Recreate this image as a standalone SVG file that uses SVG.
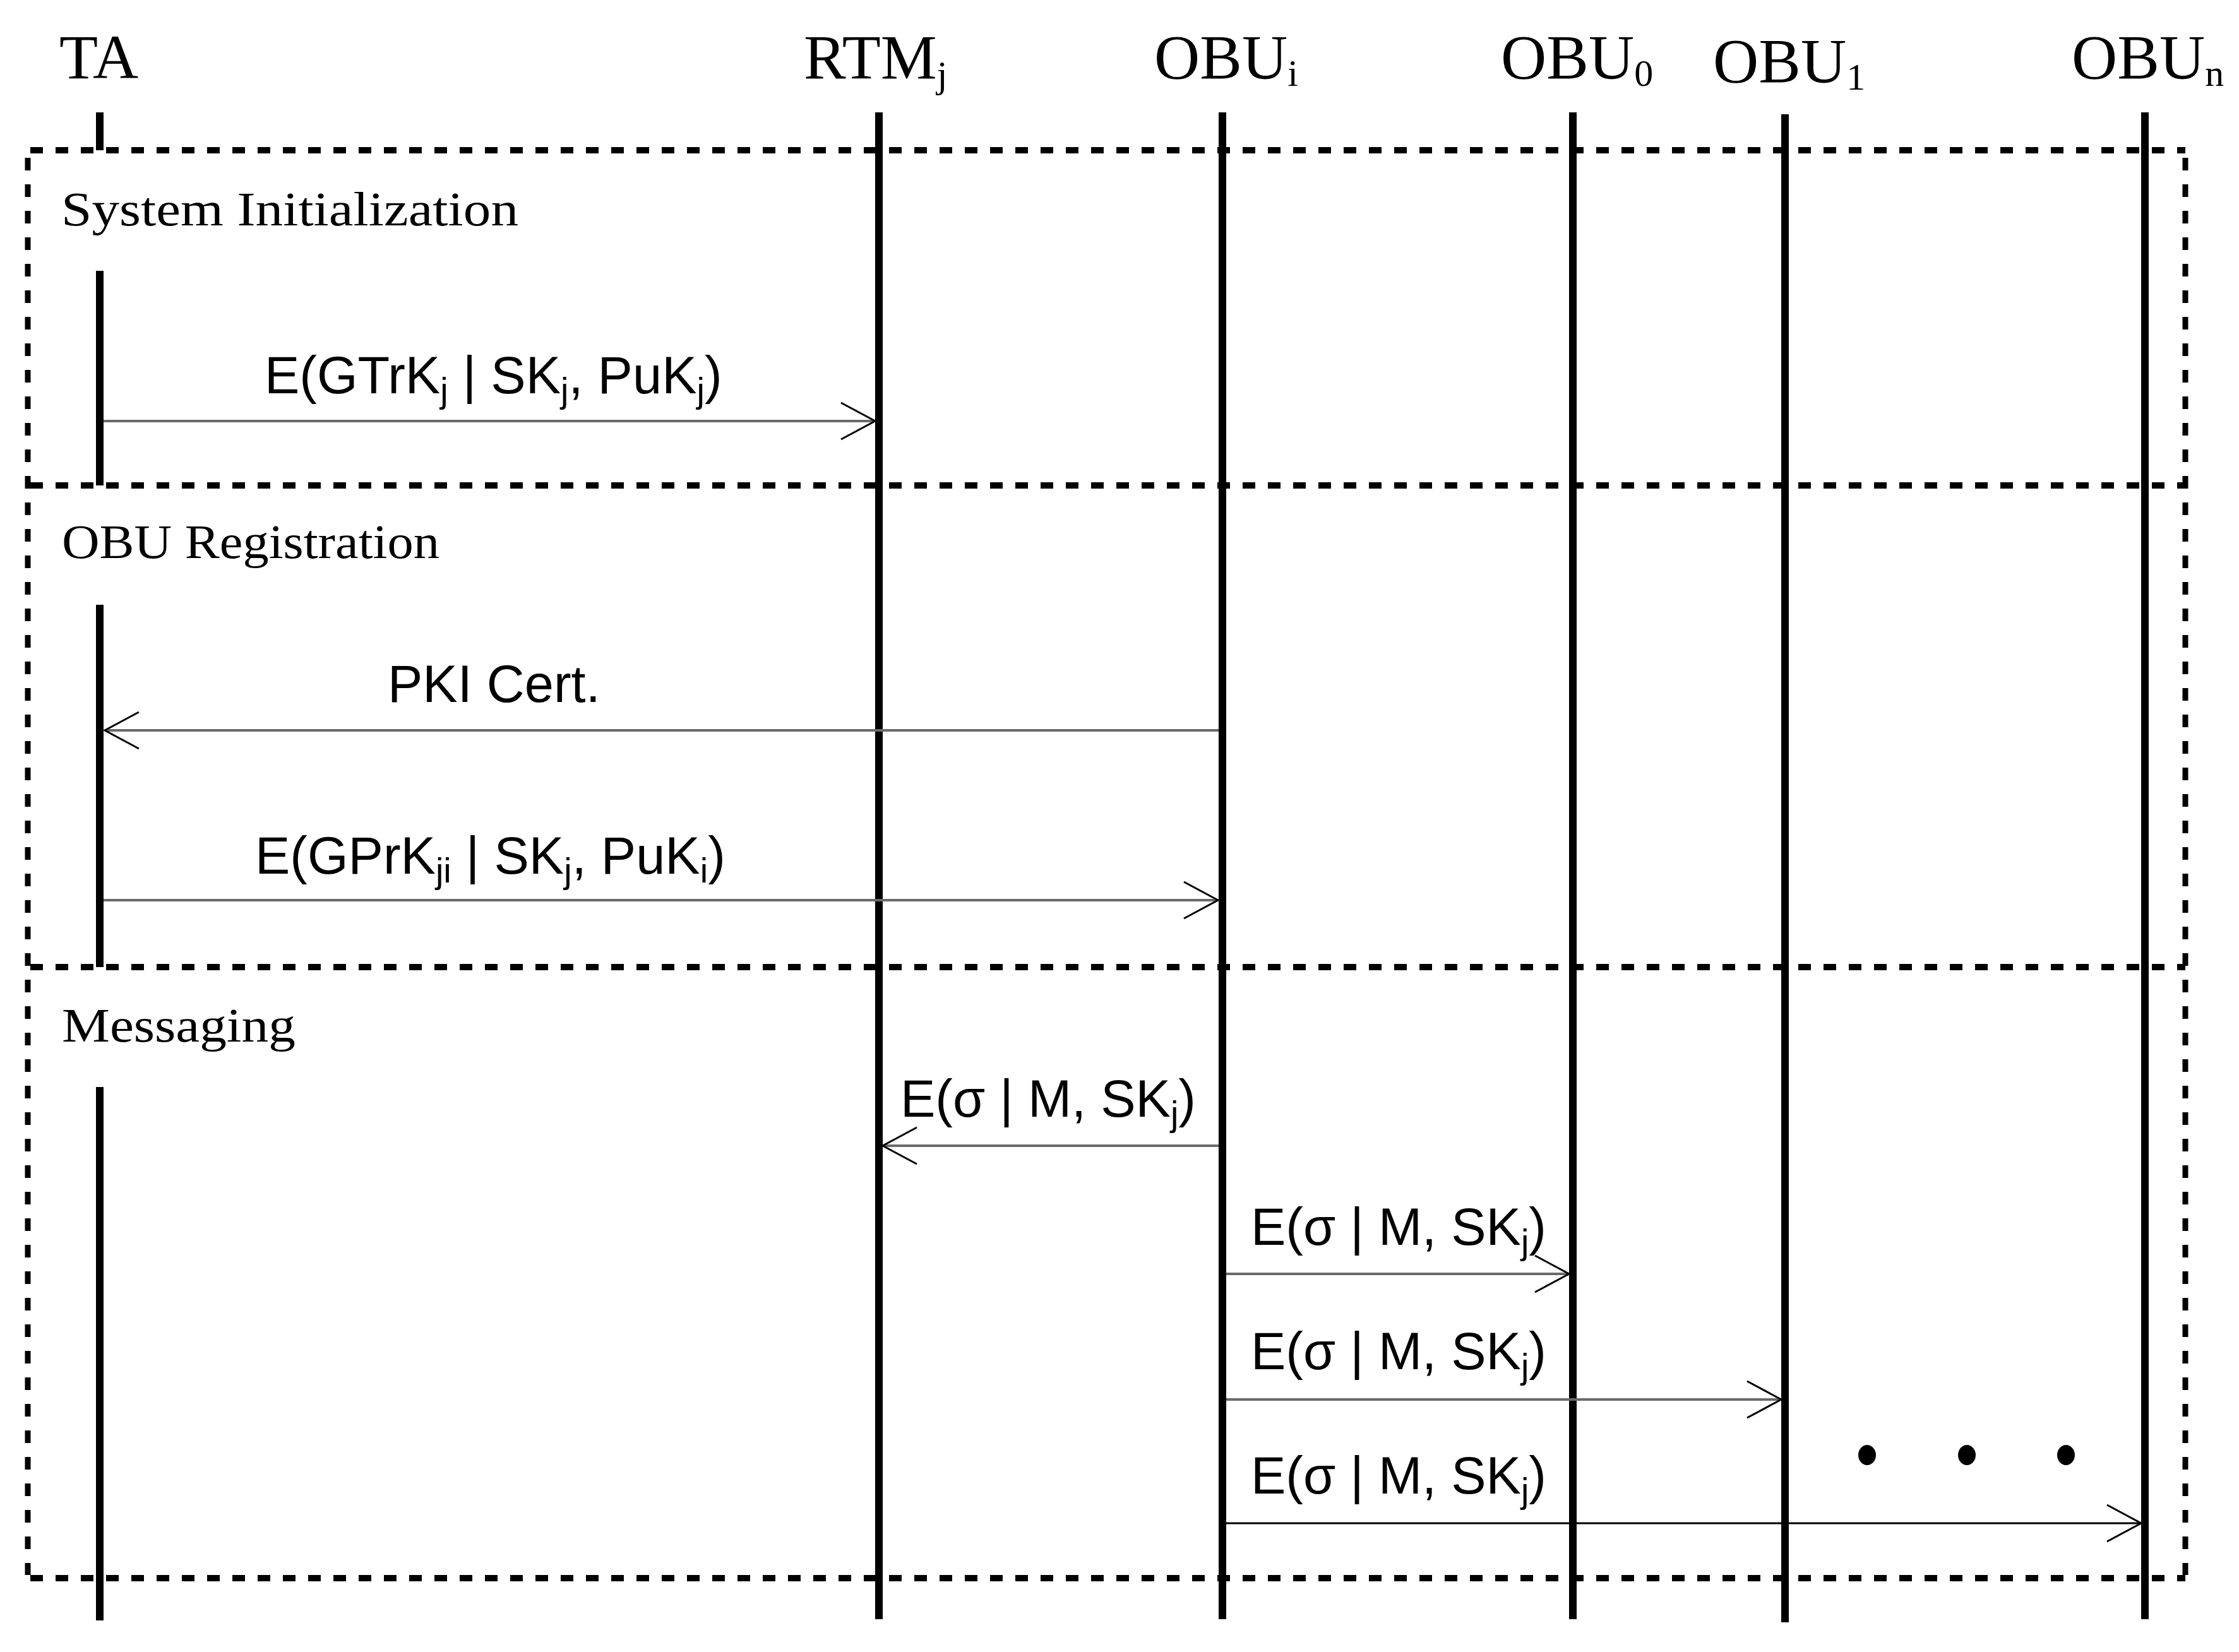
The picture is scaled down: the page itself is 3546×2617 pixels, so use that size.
<svg xmlns="http://www.w3.org/2000/svg" width="3546" height="2617" viewBox="0 0 3546 2617">
<style>
.bg{fill:#fff}
.life{stroke:#000;stroke-width:12;fill:none}
.hdr{font-family:"Liberation Serif","Times New Roman",serif;font-size:100px;fill:#000}
.hsub{font-size:60px}
.sec{font-family:"Liberation Serif","Times New Roman",serif;font-size:77px;fill:#000}
.lbl{font-family:"Liberation Sans",Arial,sans-serif;font-size:83px;fill:#000}
.sub{font-size:56px}
.hdash{stroke:#000;stroke-width:10;stroke-dasharray:20 20;fill:none}
.vdash{stroke:#000;stroke-width:9;stroke-dasharray:20 22;fill:none}
.msg{stroke:#6a6a6a;stroke-width:4;fill:none}
.msgb{stroke:#000;stroke-width:3;fill:none}
</style>
<defs>
<marker id="arr" markerUnits="userSpaceOnUse" markerWidth="70" markerHeight="70" viewBox="0 0 70 70" refX="62" refY="35" orient="auto" overflow="visible">
<path d="M8,6 L62,35 L8,64" fill="none" stroke="#000" stroke-width="3"/>
</marker>
</defs>
<rect class="bg" x="0" y="0" width="3546" height="2617"/>

<g id="frame">
<line class="hdash" x1="48" y1="238" x2="3461" y2="238"/>
<line class="hdash" x1="48" y1="769" x2="3461" y2="769"/>
<line class="hdash" x1="48" y1="1532" x2="3461" y2="1532"/>
<line class="hdash" x1="48" y1="2500" x2="3461" y2="2500"/>
<line class="vdash" x1="44" y1="250" x2="44" y2="2495"/>
<line class="vdash" x1="3461" y1="250" x2="3461" y2="2495"/>
<text class="sec" x="97" y="357" textLength="724" lengthAdjust="spacingAndGlyphs">System Initialization</text>
<text class="sec" x="98" y="884" textLength="598" lengthAdjust="spacingAndGlyphs">OBU Registration</text>
<text class="sec" x="98" y="1650" textLength="370" lengthAdjust="spacingAndGlyphs">Messaging</text>
</g>

<g id="node-TA">
<text class="hdr" x="94" y="124">TA</text>
<line class="life" x1="158" y1="178" x2="158" y2="238"/>
<line class="life" x1="158" y1="429" x2="158" y2="769"/>
<line class="life" x1="158" y1="958" x2="158" y2="1532"/>
<line class="life" x1="158" y1="1722" x2="158" y2="2567"/>
</g>

<g id="node-RTMj">
<text class="hdr" x="1273" y="124">RTM<tspan class="hsub" dy="14">j</tspan></text>
<line class="life" x1="1392" y1="178" x2="1392" y2="2565"/>
</g>

<g id="node-OBUi">
<text class="hdr" x="1828" y="124">OBU<tspan class="hsub" dy="12">i</tspan></text>
<line class="life" x1="1936" y1="178" x2="1936" y2="2565"/>
</g>

<g id="node-OBU0">
<text class="hdr" x="2377" y="124">OBU<tspan class="hsub" dy="12">0</tspan></text>
<line class="life" x1="2491" y1="178" x2="2491" y2="2565"/>
</g>

<g id="node-OBU1">
<text class="hdr" x="2713" y="130">OBU<tspan class="hsub" dy="12">1</tspan></text>
<line class="life" x1="2827" y1="181" x2="2827" y2="2570"/>
</g>

<g id="node-OBUn">
<text class="hdr" x="3281" y="124">OBU<tspan class="hsub" dy="12">n</tspan></text>
<line class="life" x1="3397" y1="178" x2="3397" y2="2565"/>
</g>

<g id="connectors">
<line class="msg" x1="164" y1="667" x2="1386" y2="667" marker-end="url(#arr)"/>
<text class="lbl" x="419" y="623">E(GTrK<tspan class="sub" dy="14">j</tspan><tspan dy="-14"> | SK</tspan><tspan class="sub" dy="14">j</tspan><tspan dy="-14">, PuK</tspan><tspan class="sub" dy="14">j</tspan><tspan dy="-14">)</tspan></text>

<line class="msg" x1="1930" y1="1157" x2="166" y2="1157" marker-end="url(#arr)"/>
<text class="lbl" x="614" y="1112">PKI Cert.</text>

<line class="msg" x1="164" y1="1426" x2="1929" y2="1426" marker-end="url(#arr)"/>
<text class="lbl" x="404" y="1384">E(GPrK<tspan class="sub" dy="14">ji</tspan><tspan dy="-14"> | SK</tspan><tspan class="sub" dy="14">j</tspan><tspan dy="-14">, PuK</tspan><tspan class="sub" dy="14">i</tspan><tspan dy="-14">)</tspan></text>

<line class="msg" x1="1930" y1="1815" x2="1398" y2="1815" marker-end="url(#arr)"/>
<text class="lbl" x="1426" y="1769">E(σ | M, SK<tspan class="sub" dy="14">j</tspan><tspan dy="-14">)</tspan></text>

<line class="msg" x1="1942" y1="2018" x2="2485" y2="2018" marker-end="url(#arr)"/>
<text class="lbl" x="1981" y="1972">E(σ | M, SK<tspan class="sub" dy="14">j</tspan><tspan dy="-14">)</tspan></text>

<line class="msg" x1="1942" y1="2217" x2="2821" y2="2217" marker-end="url(#arr)"/>
<text class="lbl" x="1981" y="2169">E(σ | M, SK<tspan class="sub" dy="14">j</tspan><tspan dy="-14">)</tspan></text>

<line class="msgb" x1="1942" y1="2413" x2="3391" y2="2413" marker-end="url(#arr)"/>
<text class="lbl" x="1981" y="2366">E(σ | M, SK<tspan class="sub" dy="14">j</tspan><tspan dy="-14">)</tspan></text>
</g>

<g id="ellipsis">
<ellipse cx="2957" cy="2305" rx="14" ry="16" fill="#000"/>
<ellipse cx="3115" cy="2305" rx="14" ry="16" fill="#000"/>
<ellipse cx="3272" cy="2305" rx="14" ry="16" fill="#000"/>
</g>
</svg>
